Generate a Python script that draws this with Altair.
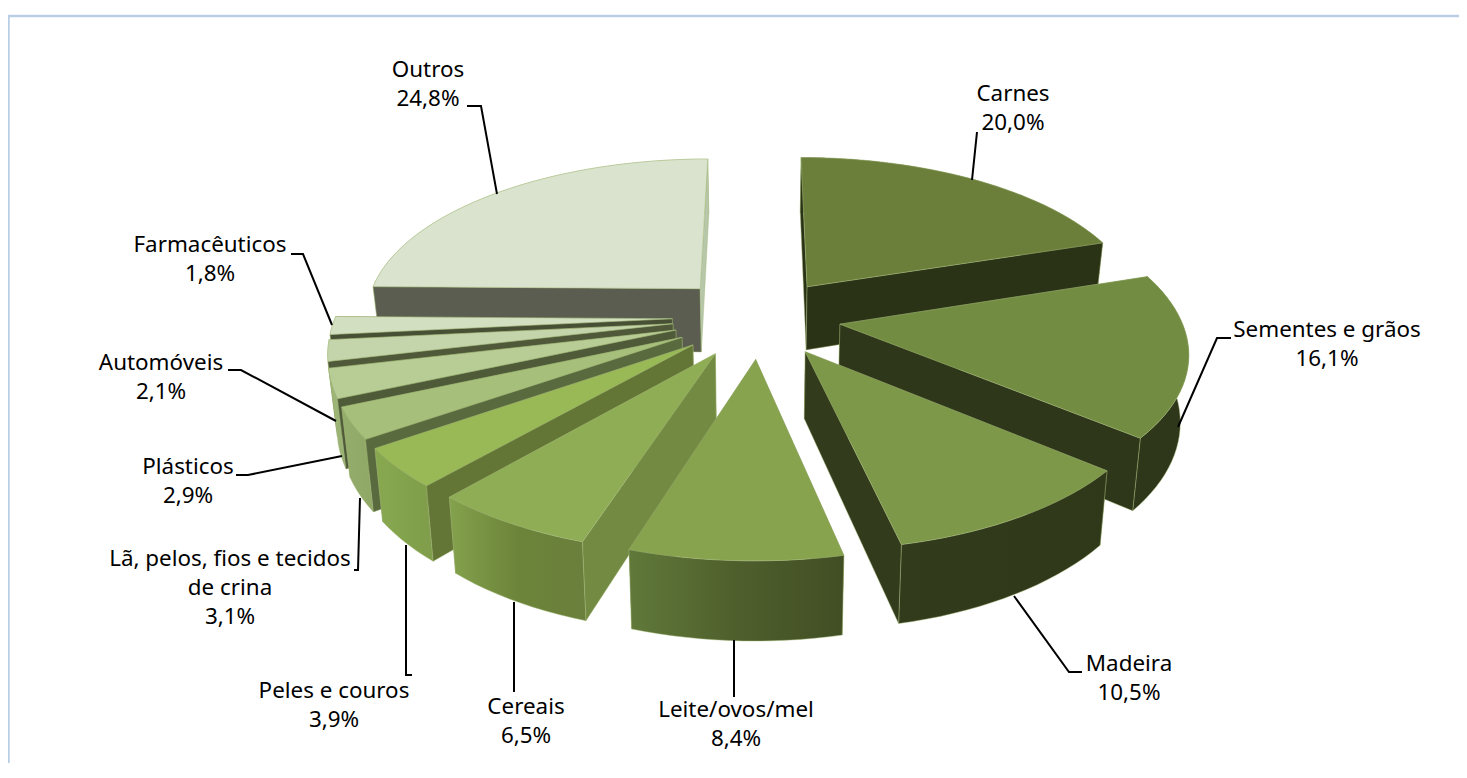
import math
import altair as alt
import pandas as pd

# ---- data
names = ["Carnes", "Sementes e grãos", "Madeira", "Leite/ovos/mel", "Cereais", "Peles e couros",
         "Lã, pelos, fios e tecidos|de crina", "Plásticos", "Automóveis", "Farmacêuticos", "Outros"]
values = [20.0, 16.1, 10.5, 8.4, 6.5, 3.9, 3.1, 2.9, 2.1, 1.8, 24.8]

# ---- colours
top_colors = ["#6b7f3a", "#728c41", "#7d9848", "#87a34d", "#8fad55", "#99b956",
              "#a6c07b", "#b8cd95", "#c5d5ab", "#d3dfc1", "#dae3cd"]
cut_colors = ["#2b3317", "#2e3719", "#333b1d", "#333b1d", "#728a42", "#637635",
              "#596a3e", "#4e5a38", "#4f5839", "#474f35", "#5a5d50"]
cut_end_colors = {10: "#b7c7a9"}
wall_stops = [["#2b3317", "#2b3317"], ["#2e3719", "#2e3719"], ["#333b1d", "#30381a"],
              ["#60793a", "#4f5f2c", "#414e24"], ["#84a24d", "#6c8439", "#6a7f3c"],
              ["#88a850", "#7f9d4a"], ["#95ad6c", "#8fa866"], ["#9fb87a", "#98b072"],
              ["#a9bd87", "#a9bd87"], ["#b5c69a", "#b5c69a"], ["#c3d0b0", "#c3d0b0"]]
edge_color = "#a3b878"

# ---- 3D layout (perspective of the pie, explosion of each slice)
CX, CY = 760, 317
RX, RY, PERSP, THICK, SHRINK = 337, 157, 0.15, 65, 0.98
explode = [0.245, 0.24, 0.25, 0.26, 0.26, 0.26, 0.26, 0.26, 0.26, 0.26, 0.26]
radius = [1, 1.01, 1, 1, 1, 1, 1, 1, 1, 1, 1]
draw_order = [10, 0, 1, 9, 8, 7, 6, 5, 4, 2, 3]

# ---- label layout
label_pos = [(1013, 94), (1327, 330), (1129, 664), (736, 710), (526, 707), (334, 691),
             (230, 559), (188, 467), (161, 363), (210, 245), (428, 70)]
line_step = 29
leaders = [[(972, 180), (977, 132)],
           [(1231, 338), (1217, 338), (1178, 427)],
           [(1014, 596), (1069, 672), (1082, 672)],
           [(734, 640), (734, 697)],
           [(514, 602), (514, 692)],
           [(406, 545), (406, 675), (412, 675)],
           [(360, 498), (358, 570), (354, 570)],
           [(342, 456), (248, 475), (236, 475)],
           [(336, 421), (241, 370), (228, 370)],
           [(332, 325), (303, 254), (291, 254)],
           [(467, 106), (481, 106), (497, 194)]]

W, H = 1451, 755
x_scale = alt.Scale(domain=[8, 8 + W], nice=False, zero=False)
y_scale = alt.Scale(domain=[8 + H, 8], nice=False, zero=False)
X = alt.X("x:Q", scale=x_scale, axis=None)
Y = alt.Y("y:Q", scale=y_scale, axis=None)


def project(wx, wy):
    w = 1 + PERSP * wy
    return CX + RX * wx / w, CY - RY * wy / w, w


def down(x, y, w):
    return CX + (x - CX) * SHRINK, y + THICK / w


def face(points, fill, stroke=edge_color):
    df = pd.DataFrame([{"x": p[0], "y": p[1], "o": i} for i, p in enumerate(points)])
    return alt.Chart(df).mark_line(interpolate="linear-closed", fill=fill, stroke=stroke,
                                   strokeWidth=0.8, strokeOpacity=0.55).encode(
        x=X, y=Y, order=alt.Order("o:Q"))


def gradient(stops):
    n = len(stops) - 1
    return alt.Gradient(gradient="linear", x1=0, x2=1, y1=0, y2=0,
                        stops=[alt.GradientStop(offset=i / n, color=c) for i, c in enumerate(stops)])


def signed_area(pts):
    return sum(pts[k][0] * pts[(k + 1) % len(pts)][1] - pts[(k + 1) % len(pts)][0] * pts[k][1]
               for k in range(len(pts)))


starts = []
acc = 0.0
total = sum(values)
for v in values:
    starts.append(acc)
    acc += v * 360 / total

layers = []
for i in draw_order:
    a0 = starts[i]
    a1 = a0 + values[i] * 360 / total
    mid = math.radians((a0 + a1) / 2)
    ex, ey = explode[i] * math.sin(mid), explode[i] * math.cos(mid)
    r = radius[i]
    ax, ay, aw = project(ex, ey)
    steps = max(2, int((a1 - a0) / 2))
    angles = [a0 + (a1 - a0) * k / steps for k in range(steps + 1)]
    rim_top = [project(ex + r * math.sin(math.radians(d)), ey + r * math.cos(math.radians(d)))
               for d in angles]
    rim_top_xy = [(p[0], p[1]) for p in rim_top]
    rim_bot_xy = [down(*p) for p in rim_top]
    apex_bot = down(ax, ay, aw)

    start_pts = [(ax, ay), rim_top_xy[0], rim_bot_xy[0], apex_bot]
    end_pts = [(ax, ay), rim_top_xy[-1], rim_bot_xy[-1], apex_bot]
    start_col, end_col = cut_colors[i], cut_end_colors.get(i, cut_colors[i])
    # a cut face that looks away from the viewer goes behind the wall, the other in front of it
    front = []
    if signed_area(start_pts) < 0:
        front.append((start_pts, start_col))
    else:
        layers.append(face(start_pts, start_col))
    if signed_area(end_pts) > 0:
        front.append((end_pts, end_col))
    else:
        layers.append(face(end_pts, end_col))
    layers.append(face(rim_top_xy + rim_bot_xy[::-1], gradient(wall_stops[i])))
    for pts, col in front:
        layers.append(face(pts, col))
    layers.append(face([(ax, ay)] + rim_top_xy, top_colors[i]))

# border of the chart area
border = pd.DataFrame({"x": [8.5, 8.5, 8 + W], "y": [8 + H, 16, 16], "o": [0, 1, 2]})
layers.insert(0, alt.Chart(border).mark_line(color="#b9cde5", strokeWidth=2.5).encode(
    x=X, y=Y, order=alt.Order("o:Q")))

# leader lines
for pts in leaders:
    df = pd.DataFrame([{"x": p[0], "y": p[1], "o": k} for k, p in enumerate(pts)])
    layers.append(alt.Chart(df).mark_line(color="#000000", strokeWidth=2).encode(
        x=X, y=Y, order=alt.Order("o:Q")))

# labels
rows = []
for name, v, (lx, ly) in zip(names, values, label_pos):
    lines = name.split("|") + [f"{v:.1f}".replace(".", ",") + "%"]
    for k, t in enumerate(lines):
        rows.append({"x": lx, "y": ly + k * line_step, "t": t})
layers.append(alt.Chart(pd.DataFrame(rows)).mark_text(
    font="Noto Sans", fontSize=22.4, align="center", baseline="middle", color="#000000").encode(
    x=X, y=Y, text="t:N"))

chart = alt.layer(*layers).properties(
    width=W, height=H, padding=0, background="#ffffff",
    autosize=alt.AutoSizeParams(type="none", contains="padding")
).configure_view(stroke=None)
chart.save("out.html", embed_options={"renderer": "svg", "actions": False})
